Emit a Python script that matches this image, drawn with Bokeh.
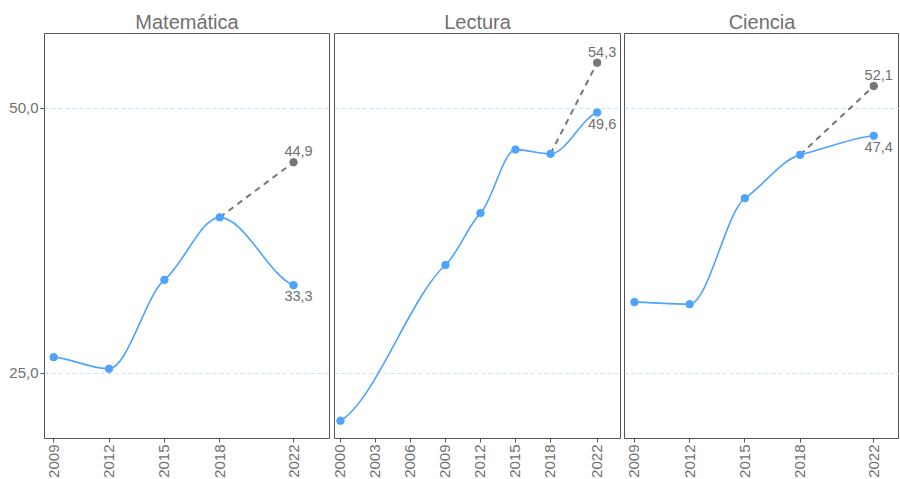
import numpy as np
from bokeh.plotting import figure
from bokeh.layouts import row
from bokeh.models import FixedTicker, CustomJSTickFormatter, Range1d, ColumnDataSource, Grid
from bokeh.embed import file_html
from bokeh.resources import INLINE
from bokeh.core.properties import value

# ---------------- data ----------------
subjects = ["Matemática", "Lectura", "Ciencia"]

mat_years = [2009, 2012, 2015, 2018, 2022]
mat_scores = [26.5, 25.4, 33.8, 39.7, 33.3]
mat_proj = [39.7, 44.9]
mat_ticks = [2009, 2012, 2015, 2018, 2022]

lec_years = [2000, 2009, 2012, 2015, 2018, 2022]
lec_scores = [20.5, 35.2, 40.1, 46.1, 45.7, 49.6]
lec_proj = [45.7, 54.3]
lec_ticks = [2000, 2003, 2006, 2009, 2012, 2015, 2018, 2022]

cie_years = [2009, 2012, 2015, 2018, 2022]
cie_scores = [31.7, 31.5, 41.5, 45.6, 47.4]
cie_proj = [45.6, 52.1]
cie_ticks = [2009, 2012, 2015, 2018, 2022]

proj_years = [2018, 2022]
y_ticks = [25, 50]

# ---------------- style ----------------
FONT = "Liberation Sans"
TXT = "#707070"
BLUE = "#4da3ff"
GREY = "#767676"
BORDER = "#555555"
GRID = "#c4e1fc"


def fmt(v):
    return f"{v:.1f}".replace(".", ",")


def smooth_segments(xs, ys, k=0.6, kend=0.4):
    x = np.array(xs, float)
    y = np.array(ys, float)
    h = np.diff(x)
    d = np.diff(y) / h
    n = len(x)
    m = np.zeros(n)
    for i in range(1, n - 1):
        if d[i - 1] * d[i] > 0:
            w1 = 2 * h[i] + h[i - 1]
            w2 = h[i] + 2 * h[i - 1]
            m[i] = k * (w1 + w2) / (w1 / d[i - 1] + w2 / d[i])
    m[0] = kend * d[0]
    m[-1] = kend * d[-1]
    return dict(
        x0=x[:-1], y0=y[:-1], x1=x[1:], y1=y[1:],
        cx0=x[:-1] + h / 3, cy0=y[:-1] + m[:-1] * h / 3,
        cx1=x[1:] - h / 3, cy1=y[1:] - m[1:] * h / 3,
    )


def panel(title, years, scores, proj, ticks, xr, frame_w, left, right, show_y):
    p = figure(
        output_backend="svg", toolbar_location=None,
        frame_width=frame_w, frame_height=405,
        min_border_left=left, min_border_right=right,
        min_border_top=33, min_border_bottom=38,
        x_range=Range1d(*xr), y_range=Range1d(18.82, 57.06),
        y_axis_location="left" if show_y else None,
        title=title,
    )
    p.background_fill_color = "white"
    p.border_fill_color = "white"
    p.outline_line_color = BORDER
    p.outline_line_width = 1
    p.title.align = "center"
    p.title.text_font = FONT
    p.title.text_font_size = "20px"
    p.title.text_font_style = "normal"
    p.title.text_color = TXT
    p.title.standoff = 2
    p.title.offset = 0

    p.xgrid.visible = False
    p.ygrid.visible = False
    p.add_layout(Grid(dimension=1, ticker=FixedTicker(ticks=y_ticks),
                      grid_line_color=GRID, grid_line_dash="4 3", grid_line_width=1))

    xa = p.xaxis[0]
    xa.ticker = FixedTicker(ticks=ticks)
    xa.major_label_orientation = np.pi / 2
    xa.major_label_text_font = FONT
    xa.major_label_text_font_size = "15px"
    xa.major_label_text_color = TXT
    xa.major_label_standoff = 2
    xa.axis_line_color = None
    xa.major_tick_line_color = BORDER
    xa.major_tick_out = 4
    xa.major_tick_in = 0
    xa.minor_tick_line_color = None

    if show_y:
        ya = p.yaxis[0]
        ya.ticker = FixedTicker(ticks=y_ticks)
        ya.formatter = CustomJSTickFormatter(code="return tick.toFixed(1).replace('.', ',');")
        ya.major_label_text_font = FONT
        ya.major_label_text_font_size = "15px"
        ya.major_label_text_color = TXT
        ya.major_label_standoff = 2
        ya.axis_line_color = None
        ya.major_tick_line_color = BORDER
        ya.major_tick_out = 4
        ya.major_tick_in = 0
        ya.minor_tick_line_color = None

    # projection
    p.line(proj_years, proj, line_color=GREY, line_width=2, line_dash="6 5")
    p.scatter([proj_years[-1]], [proj[-1]], size=7.5, fill_color=GREY, line_color=GREY)

    # smooth observed line
    src = ColumnDataSource(smooth_segments(years, scores))
    p.bezier(x0="x0", y0="y0", x1="x1", y1="y1", cx0="cx0", cy0="cy0",
             cx1="cx1", cy1="cy1", source=src, line_color=BLUE, line_width=1.6)
    p.scatter(years, scores, size=7.5, fill_color=BLUE, line_color=BLUE)

    # labels
    p.text([proj_years[-1]], [proj[-1]], text=[fmt(proj[-1])],
           text_font=value(FONT), text_font_size="14.5px", text_color=TXT,
           text_align="center", text_baseline="middle", x_offset=5, y_offset=-11)
    p.text([years[-1]], [scores[-1]], text=[fmt(scores[-1])],
           text_font=value(FONT), text_font_size="14.5px", text_color=TXT,
           text_align="center", text_baseline="middle", x_offset=5, y_offset=11)
    return p


p1 = panel(subjects[0], mat_years, mat_scores, mat_proj, mat_ticks, (2008.5, 2023.95), 285, 44, 3, True)
p2 = panel(subjects[1], lec_years, lec_scores, lec_proj, lec_ticks, (1999.49, 2024.0), 286, 2, 2, False)
p3 = panel(subjects[2], cie_years, cie_scores, cie_proj, cie_ticks, (2008.46, 2023.4), 275, 2, 0, False)

layout = row(p1, p2, p3, spacing=0)
open("out.html", "w").write(file_html(layout, INLINE))
